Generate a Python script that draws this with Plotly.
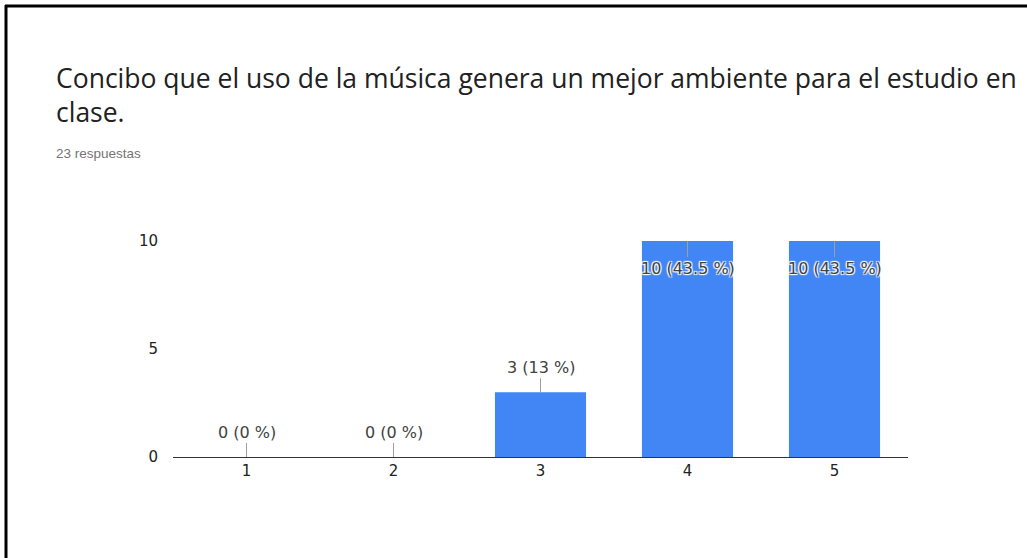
import plotly.graph_objects as go

categories = ["1", "2", "3", "4", "5"]
counts = [0, 0, 3, 10, 10]
pct_labels = ["0 %", "0 %", "13 %", "43.5 %", "43.5 %"]
y_ticks = [0, 5, 10]
title_line1 = "Concibo que el uso de la música genera un mejor ambiente para el estudio en"
title_line2 = "clase."
subtitle = "23 respuestas"

W, H = 1027, 558
L, R, T, B = 173, 1027 - 908, 241, 558 - 457
pw, ph = W - L - R, H - T - B

def px(x):
    return (x - L) / pw

def py(y):
    return (H - B - y) / ph

fig = go.Figure()
fig.add_trace(go.Bar(x=categories, y=counts, marker=dict(color="#4285F4", line=dict(width=0)),
                     hoverinfo="skip"))

halo = "1px 1px 1px #fff, -1px -1px 1px #fff, 1px -1px 1px #fff, -1px 1px 1px #fff"
chart_font = "DejaVu Sans"
annotations = []
for i, (v, p) in enumerate(zip(counts, pct_labels)):
    inside = v >= 10
    annotations.append(dict(
        x=i, y=v, xref="x", yref="y",
        text=f"{v} ({p})", showarrow=True, arrowhead=0, arrowwidth=1,
        arrowcolor="#9e9e9e", ax=0, ay=27 if inside else -25,
        font=dict(family=chart_font, size=16, color="#424242", shadow=halo),
    ))

annotations += [
    dict(x=px(54), y=py(78), xref="paper", yref="paper", xanchor="left", yanchor="middle",
         text=title_line1, showarrow=False,
         font=dict(family="Open Sans", size=26.5, color="#212121")),
    dict(x=px(54), y=py(112), xref="paper", yref="paper", xanchor="left", yanchor="middle",
         text=title_line2, showarrow=False,
         font=dict(family="Open Sans", size=26.5, color="#212121")),
    dict(x=px(54), y=py(153), xref="paper", yref="paper", xanchor="left", yanchor="middle",
         text=subtitle, showarrow=False,
         font=dict(family="Liberation Sans, Arial", size=13.5, color="#757575")),
]

shapes = [
    dict(type="line", xref="paper", yref="paper", x0=px(5), x1=px(1040), y0=py(6), y1=py(6),
         line=dict(color="black", width=3)),
    dict(type="line", xref="paper", yref="paper", x0=px(6), x1=px(6), y0=py(5), y1=py(570),
         line=dict(color="black", width=3)),
]

fig.update_layout(
    width=W, height=H,
    margin=dict(l=L, r=R, t=T, b=B, pad=0),
    paper_bgcolor="white", plot_bgcolor="white",
    bargap=0.38, showlegend=False,
    annotations=annotations, shapes=shapes,
    xaxis=dict(type="category", range=[-0.5, 4.5], showgrid=False, zeroline=False,
               showline=True, linecolor="#333333", linewidth=1, ticks="",
               tickfont=dict(family=chart_font, size=15, color="#222222")),
    yaxis=dict(range=[0, 10], tickvals=y_ticks, showgrid=False, zeroline=False,
               showline=False, ticks="", ticklabelstandoff=14,
               tickfont=dict(family=chart_font, size=15, color="#222222")),
)

fig.write_html("out.html", config={"displayModeBar": False},
               post_script="document.body.style.margin='0';document.body.style.overflow='hidden';")
